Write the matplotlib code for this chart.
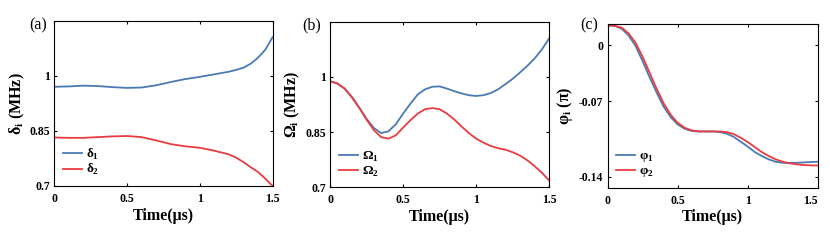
import numpy as np
import matplotlib
matplotlib.use('Agg')
import matplotlib.pyplot as plt

# ---------------------------------------------------------------------------
# Data (time in us)
# ---------------------------------------------------------------------------
t_a = [0.0, 0.1, 0.2, 0.3, 0.4, 0.5, 0.6, 0.7, 0.8, 0.9, 1.0, 1.1, 1.2,
       1.25, 1.3, 1.35, 1.4, 1.45, 1.5]
delta_1 = [0.970, 0.971, 0.973, 0.972, 0.969, 0.967, 0.968, 0.974, 0.983,
           0.991, 0.997, 1.004, 1.011, 1.016, 1.022, 1.033, 1.049, 1.071, 1.105]
delta_2 = [0.832, 0.831, 0.831, 0.833, 0.835, 0.836, 0.833, 0.824, 0.814,
           0.808, 0.804, 0.796, 0.786, 0.777, 0.765, 0.751, 0.738, 0.720, 0.700]

t_b = [0.0, 0.05, 0.1, 0.15, 0.2, 0.25, 0.3, 0.35, 0.4, 0.45, 0.5, 0.55,
       0.6, 0.65, 0.7, 0.75, 0.8, 0.85, 0.9, 0.95, 1.0, 1.05, 1.1, 1.15,
       1.2, 1.25, 1.3, 1.35, 1.4, 1.45, 1.5]
omega_1 = [0.988, 0.982, 0.968, 0.945, 0.916, 0.886, 0.861, 0.847, 0.852,
           0.871, 0.900, 0.927, 0.952, 0.966, 0.973, 0.974, 0.968, 0.961,
           0.955, 0.950, 0.948, 0.950, 0.956, 0.966, 0.980, 0.995, 1.012,
           1.030, 1.050, 1.075, 1.105]
omega_2 = [0.988, 0.982, 0.968, 0.944, 0.916, 0.884, 0.855, 0.836, 0.832,
           0.841, 0.862, 0.882, 0.900, 0.912, 0.915, 0.912, 0.900, 0.884,
           0.865, 0.847, 0.832, 0.821, 0.812, 0.806, 0.802, 0.795, 0.786,
           0.773, 0.757, 0.739, 0.718]

t_c = [0.0, 0.05, 0.1, 0.15, 0.2, 0.25, 0.3, 0.35, 0.4, 0.45, 0.5, 0.55,
       0.6, 0.65, 0.7, 0.75, 0.8, 0.85, 0.9, 0.95, 1.0, 1.05, 1.1, 1.15,
       1.2, 1.25, 1.3, 1.35, 1.4, 1.45, 1.5]
phi_1 = [0.0, -0.0003, -0.003, -0.0092, -0.019, -0.033, -0.048, -0.062,
         -0.075, -0.0847, -0.0915, -0.0955, -0.0976, -0.098, -0.098, -0.098,
         -0.0986, -0.100, -0.103, -0.1075, -0.112, -0.117, -0.1207, -0.1238,
         -0.126, -0.127, -0.1272, -0.127, -0.1266, -0.1263, -0.126]
phi_2 = [0.0, -0.0003, -0.002, -0.0074, -0.016, -0.029, -0.0437, -0.0585,
         -0.072, -0.0825, -0.090, -0.0946, -0.097, -0.098, -0.098, -0.098,
         -0.098, -0.0986, -0.1004, -0.1038, -0.1078, -0.1124, -0.117,
         -0.1207, -0.1238, -0.126, -0.1275, -0.1284, -0.129, -0.1294, -0.1294]

x_ticks = [0, 0.5, 1, 1.5]
x_tick_labels = ['0', '0.5', '1', '1.5']
amp_ticks = [0.7, 0.85, 1]
amp_tick_labels = ['0.7', '0.85', '1']
phase_ticks = [-0.14, -0.07, -0.0185]
phase_tick_labels = ['-0.14', '-0.07', '0']

BLUE = '#4a7ab3'
RED = '#ea3b40'

plt.rcParams['font.family'] = ['Liberation Serif', 'DejaVu Serif']
plt.rcParams['mathtext.fontset'] = 'custom'


def style_axes(ax, yticks, ylabels, ylim):
    ax.set_xlim(0, 1.5)
    ax.set_ylim(*ylim)
    ax.set_xticks(x_ticks)
    ax.set_xticklabels(x_tick_labels, fontsize=8.5, fontweight='bold')
    ax.set_yticks(yticks)
    ax.set_yticklabels(ylabels, fontsize=8.5, fontweight='bold')
    ax.tick_params(direction='in', top=True, right=True, length=2.5,
                   width=0.8, pad=3)
    ax.tick_params(axis='x', pad=5)
    for spine in ax.spines.values():
        spine.set_linewidth(0.8)
    ax.set_xlabel('Time(μs)', fontsize=11.5, fontweight='bold', labelpad=2)


def add_legend(ax, labels):
    ax.legend(labels, loc='lower left', bbox_to_anchor=(0.0, 0.0),
              frameon=False, prop={'weight': 'bold', 'size': 9.5},
              handlelength=1.45, handletextpad=0.3, labelspacing=0.05,
              borderaxespad=0.25)


fig = plt.figure(figsize=(8.3, 2.46), dpi=100)
ax_a = fig.add_axes([0.0654, 0.244, 0.263, 0.672])
ax_b = fig.add_axes([0.3976, 0.239, 0.2642, 0.673])
ax_c = fig.add_axes([0.732, 0.237, 0.2533, 0.664])

# (a) detunings
ax_a.plot(t_a, delta_1, color=BLUE, lw=1.3)
ax_a.plot(t_a, delta_2, color=RED, lw=1.3)
style_axes(ax_a, amp_ticks, amp_tick_labels, (0.7, 1.15))
ax_a.set_ylabel(r'δ$_\mathregular{i}$ (MHz)', fontsize=11.5, fontweight='bold')
ax_a.yaxis.set_label_coords(-0.125, 0.5)
add_legend(ax_a, [r'δ$_\mathregular{1}$', r'δ$_\mathregular{2}$'])

# (b) Rabi frequencies
ax_b.plot(t_b, omega_1, color=BLUE, lw=1.3)
ax_b.plot(t_b, omega_2, color=RED, lw=1.3)
style_axes(ax_b, amp_ticks, amp_tick_labels, (0.7, 1.15))
ax_b.set_ylabel(r'Ω$_\mathregular{i}$ (MHz)', fontsize=11.5, fontweight='bold')
ax_b.yaxis.set_label_coords(-0.13, 0.5)
add_legend(ax_b, [r'Ω$_\mathregular{1}$', r'Ω$_\mathregular{2}$'])

# (c) phases
ax_c.plot(t_c, phi_1, color=BLUE, lw=1.3)
ax_c.plot(t_c, phi_2, color=RED, lw=1.3)
style_axes(ax_c, phase_ticks, phase_tick_labels, (-0.150, 0.001))
ax_c.set_ylabel(r'φ$_\mathregular{i}$ (π)', fontsize=11.5, fontweight='bold')
ax_c.yaxis.set_label_coords(-0.155, 0.5)
ax_c.get_xticklabels()[-1].set_ha('right')
add_legend(ax_c, [r'φ$_\mathregular{1}$', r'φ$_\mathregular{2}$'])

for x, lab in [(38, '(a)'), (312, '(b)'), (589, '(c)')]:
    fig.text(x / 830, 1 - 25 / 246, lab, fontsize=11.5, ha='center', va='center')

fig.savefig('out.png', dpi=100, facecolor='white')
